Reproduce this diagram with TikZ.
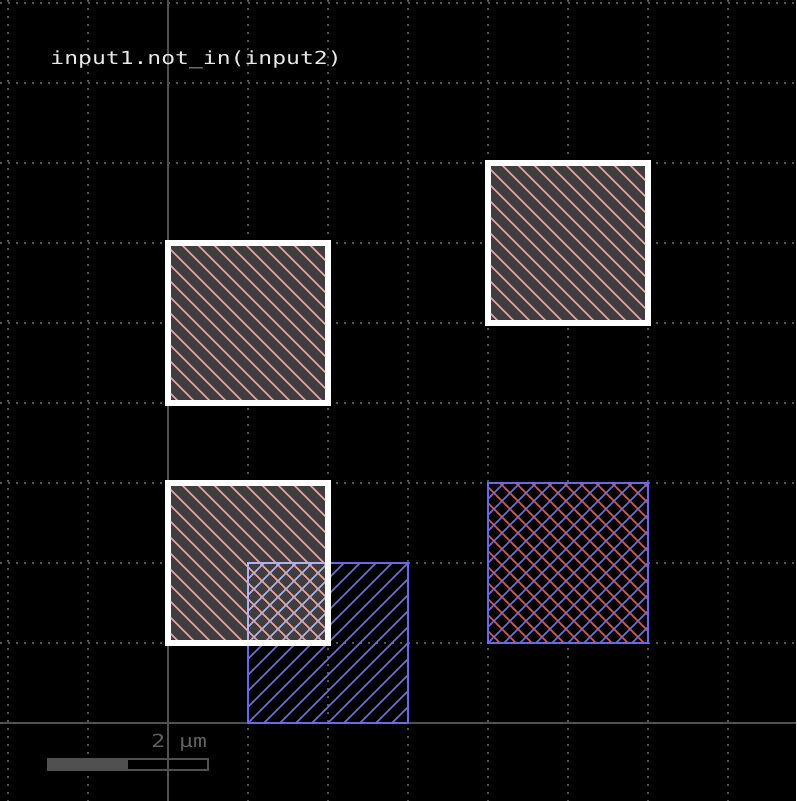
\documentclass[tikz,border=0pt]{standalone}
\usepackage{fontspec}
\newfontfamily\monofont[FakeStretch=1.28]{DejaVu Sans Mono}
\definecolor{gridc}{HTML}{545454}
\definecolor{axisc}{HTML}{505050}
\definecolor{fillg}{HTML}{3E3E3E}
\definecolor{pinkh}{HTML}{E8A4A4}
\definecolor{blueh}{HTML}{6A6AE6}
\definecolor{lblue}{HTML}{B0B0F2}
\definecolor{redh}{HTML}{D05858}
\definecolor{scalec}{HTML}{505050}
\definecolor{scaletext}{HTML}{606060}
\definecolor{titlec}{HTML}{E8E8E8}
% #1 x0, #2 y0, #3 w, #4 h, #5 colour, #6 offset
\newcommand\hatchNW[6]{%
  \begin{scope}
    \clip (#1,#2) rectangle ++(#3,#4);
    \foreach \k in {-14,...,14}
      \draw[hatchline,#5] ({#1+#6+16*\k},#2) -- ++(220,220);
  \end{scope}}
\newcommand\hatchNE[6]{%
  \begin{scope}
    \clip (#1,#2) rectangle ++(#3,#4);
    \foreach \k in {-14,...,14}
      \draw[hatchline,#5] ({#1+#6+16*\k},{#2+#4}) -- ++(220,-220);
  \end{scope}}
\begin{document}
\begin{tikzpicture}[x=0.5pt,y=-0.5pt,
  griddot/.style={gridc, line width=0.8pt, dash pattern=on 0.8pt off 3.2pt},
  axisline/.style={axisc, line width=1pt},
  hatchline/.style={line width=0.75pt},
  whiteedge/.style={white, line width=3pt},
  blueedge/.style={blueh, line width=0.9pt},
  lblueedge/.style={lblue, line width=0.9pt},
  txt/.style={anchor=base west, inner sep=0pt, font=\monofont\fontsize{9}{9}\selectfont}]
\fill[black] (0,0) rectangle (796,801);
\useasboundingbox (0,0) rectangle (796,801);
% grid
\foreach \i in {8,88,248,328,408,488,568,648,728}
  \draw[griddot] (\i,0) -- (\i,801);
\foreach \j in {3,83,163,243,323,403,483,563,643}
  \draw[griddot] (0,\j) -- (796,\j);
\draw[axisline] (168,0) -- (168,801);
\draw[axisline] (0,723) -- (796,723);
% input2 square (blue)
\hatchNE{248}{563}{160}{160}{blueh}{0}
\draw[blueedge] (248,563) rectangle ++(160,160);
% input1 squares
\foreach \x/\y in {168/243, 488/163, 168/483} {
  \fill[fillg] (\x,\y) rectangle ++(160,160);
  \hatchNW{\x}{\y}{160}{160}{pinkh}{12}
}
% overlap
\hatchNE{248}{563}{80}{80}{lblue}{0}
\draw[lblueedge] (248,643) -- (248,563) -- (328,563);
\foreach \x/\y in {168/243, 488/163, 168/483}
  \draw[whiteedge] (\x,\y) rectangle ++(160,160);
% result square
\fill[black] (488,483) rectangle ++(160,160);
\hatchNW{488}{483}{160}{160}{redh}{12}
\hatchNE{488}{483}{160}{160}{blueh}{0}
\draw[blueedge] (488,483) rectangle ++(160,160);
% scale bar
\fill[scalec] (48,759) rectangle (128,770);
\draw[scalec, line width=0.8pt] (48,759) rectangle (208,770);
% texts
\node[txt, text=titlec] (title) at (50,65) {input1.not\_in(input2)};
\node[txt, text=scaletext] (scalelabel) at (151,747) {2 µm};
\end{tikzpicture}
\end{document}
